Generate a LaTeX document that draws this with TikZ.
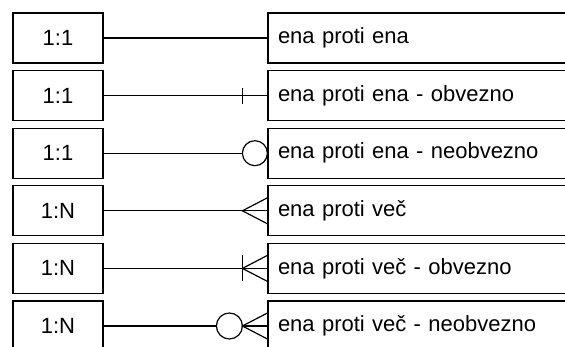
\documentclass[tikz,border=0pt]{standalone}
\usepackage{fontspec}
\setmainfont{Liberation Sans}
\usetikzlibrary{calc}
\usetikzlibrary{positioning}

\begin{document}
\begin{tikzpicture}[
        x=1pt,y=1pt,
        line width=1.2pt,
        node distance=6.4pt and 163.8pt,
        every node/.style={draw,minimum height=50pt,inner sep=0pt,font=\fontsize{22}{26}\selectfont},
        kind/.style={minimum width=90pt},
        relname/.style={text width=300pt,inner xsep=10pt,align=left},
    ]
    \useasboundingbox (0,0) rectangle (565,-347);
    \clip (0,0) rectangle (565,-347);

    \node[kind] (l1) at (58,-38) {1:1};
    \node[kind,below=of l1] (l2) {1:1};
    \node[kind,below=of l2] (l3) {1:1};
    \node[kind,below=of l3] (l4) {1:N};
    \node[kind,below=of l4] (l5) {1:N};
    \node[kind,below=of l5] (l6) {1:N};

    \node[relname,right=of l1] (r1) {ena proti ena};
    \node[relname,right=of l2] (r2) {ena proti ena - obvezno};
    \node[relname,right=of l3] (r3) {ena proti ena - neobvezno};
    \node[relname,right=of l4] (r4) {ena proti več};
    \node[relname,right=of l5] (r5) {ena proti več - obvezno};
    \node[relname,right=of l6] (r6) {ena proti več - neobvezno};

    % ena proti ena
    \draw (l1) -- (r1);

    % obvezno: crossbar
    \draw (l2) -- (r2);
    \draw ($(r2.west)+(-25,-8)$) -- ++(0,16);

    % neobvezno: ring
    \draw (l3) -- ($(r3.west)+(-25,0)$);
    \draw ($(r3.west)+(-12.5,0)$) circle (12.5);

    % crow's foot
    \draw (l4) -- (r4);
    \draw ($(r4.west)+(0,13)$) -- ($(r4.west)+(-25,0)$) -- ($(r4.west)+(0,-13)$);

    \draw (l5) -- (r5);
    \draw ($(r5.west)+(-25,-13)$) -- ++(0,26);
    \draw ($(r5.west)+(0,13)$) -- ($(r5.west)+(-25,0)$) -- ($(r5.west)+(0,-13)$);

    \draw (l6) -- ($(r6.west)+(-51,0)$);
    \draw ($(r6.west)+(-38,0)$) circle (13);
    \draw ($(r6.west)+(-25,0)$) -- (r6.west);
    \draw ($(r6.west)+(0,13)$) -- ($(r6.west)+(-25,0)$) -- ($(r6.west)+(0,-13)$);
\end{tikzpicture}
\end{document}
